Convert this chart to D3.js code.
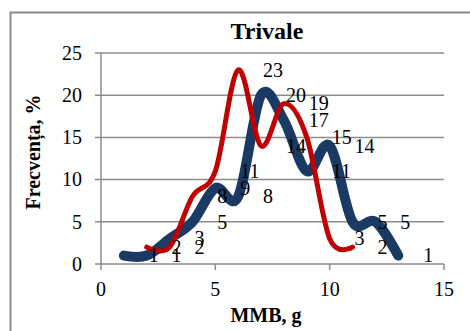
<!DOCTYPE html>
<html>
<head>
<meta charset="utf-8">
<script src="https://cdn.jsdelivr.net/npm/d3@7"></script>
<style>
  body { margin: 0; background: #fff; }
</style>
</head>
<body>
<script>
// data
const blueX = [1, 2, 3, 4, 5, 6, 7, 8, 9, 10, 11, 12, 13];
const blueY = [1, 1, 3, 5, 9, 8, 20, 17, 11, 14, 5, 5, 1];
const redX = [2, 3, 4, 5, 6, 7, 8, 9, 10, 11];
const redY = [2, 2, 8, 11, 23, 14, 19, 15, 3, 2];
const xTicks = [0, 5, 10, 15];
const yTicks = [0, 5, 10, 15, 20, 25];

const FONT = 'Liberation Serif';
let W = 470, H = 331;
let margin = {top: 53, right: 26, bottom: 67, left: 101};

let svg = d3.select('body').append('svg')
    .attr('width', W)
    .attr('height', H);

// chart area border (runs off the right and bottom edges)
svg.append('rect')
    .attr('x', 10.5).attr('y', 12.5)
    .attr('width', W).attr('height', H)
    .style('fill', 'none')
    .style('stroke', '#8a8a8a')
    .style('stroke-width', 2);

let x = d3.scaleLinear().domain([0, 15]).range([margin.left, W - margin.right]);
let y = d3.scaleLinear().domain([0, 25]).range([H - margin.bottom, margin.top]);

let g = svg.append('g');

// gridlines
g.selectAll('.grid').data(yTicks).enter().append('line')
    .attr('x1', x(0) - 6).attr('x2', x(15))
    .attr('y1', d => y(d)).attr('y2', d => y(d))
    .style('stroke', '#8c8c8c').style('stroke-width', 1.5);

// y axis line
g.append('line')
    .attr('x1', x(0)).attr('x2', x(0))
    .attr('y1', y(0)).attr('y2', y(25))
    .style('stroke', '#8c8c8c').style('stroke-width', 1.5);

// x ticks
g.selectAll('.xtick').data(xTicks).enter().append('line')
    .attr('x1', d => x(d)).attr('x2', d => x(d))
    .attr('y1', y(0)).attr('y2', y(0) + 6)
    .style('stroke', '#8c8c8c').style('stroke-width', 1.5);

g.selectAll('.ylab').data(yTicks).enter().append('text')
    .attr('x', x(0) - 19)
    .attr('y', d => y(d))
    .attr('dy', '0.34em')
    .attr('text-anchor', 'end')
    .attr('font-family', FONT)
    .attr('font-size', 20)
    .text(d => d);

g.selectAll('.xlab').data(xTicks).enter().append('text')
    .attr('x', d => x(d))
    .attr('y', y(0) + 32)
    .attr('text-anchor', 'middle')
    .attr('font-family', FONT)
    .attr('font-size', 20)
    .text(d => d);

let line = d3.line()
    .x(d => x(d[0]))
    .y(d => y(d[1]))
    .curve(d3.curveCardinal.tension(0));

let blue = blueX.map((v, i) => [v, blueY[i]]);
let red = redX.map((v, i) => [v, redY[i]]);

g.append('path').attr('d', line(blue))
    .style('fill', 'none')
    .style('stroke', '#1b3a63')
    .style('stroke-width', 10)
    .style('stroke-linecap', 'round')
    .style('stroke-linejoin', 'round');

g.append('path').attr('d', line(red))
    .style('fill', 'none')
    .style('stroke', '#c00000')
    .style('stroke-width', 5)
    .style('stroke-linecap', 'round')
    .style('stroke-linejoin', 'round');

// data labels sit one unit to the right of their points
let labels = blue.concat(red);
g.selectAll('.dlab').data(labels).enter().append('text')
    .attr('x', d => x(d[0] + 1) + 2)
    .attr('y', d => y(d[1]))
    .attr('dy', '0.34em')
    .attr('font-family', FONT)
    .attr('font-size', 20)
    .text(d => d[1]);

// titles
svg.append('text')
    .attr('x', 267).attr('y', 39)
    .attr('text-anchor', 'middle')
    .attr('font-family', FONT)
    .attr('font-size', 24).attr('font-weight', 'bold')
    .text('Trivale');

svg.append('text')
    .attr('x', 266).attr('y', 322)
    .attr('text-anchor', 'middle')
    .attr('font-family', FONT)
    .attr('font-size', 20).attr('font-weight', 'bold')
    .text('MMB, g');

svg.append('text')
    .attr('transform', 'translate(40,152) rotate(-90)')
    .attr('text-anchor', 'middle')
    .attr('font-family', FONT)
    .attr('font-size', 20).attr('font-weight', 'bold')
    .text('Frecvența, %');
</script>
</body>
</html>
